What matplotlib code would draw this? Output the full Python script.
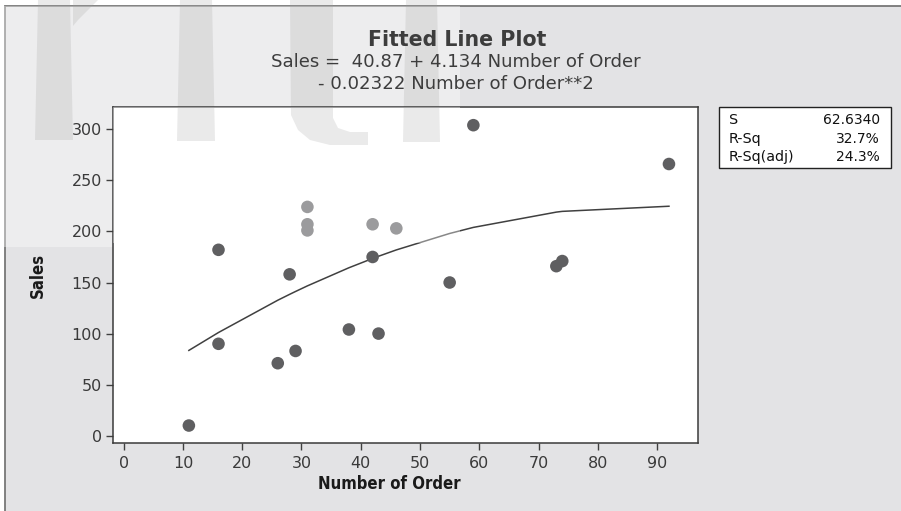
import matplotlib
matplotlib.use("Agg")
import matplotlib.pyplot as plt
from matplotlib.patches import Rectangle, Polygon
from matplotlib import font_manager
import numpy as np

# ---- data ----
number_of_order = [11, 16, 16, 26, 28, 29, 31, 31, 31, 38, 42, 42, 43, 46, 55, 59, 73, 74, 92]
sales = [10, 182, 90, 71, 158, 83, 224, 207, 201, 104, 207, 175, 100, 203, 150, 304, 166, 171, 266]
fit_coef = [40.87, 4.134, -0.02322]  # from the regression equation in the title
x_ticks = [0, 10, 20, 30, 40, 50, 60, 70, 80, 90]
y_ticks = [0, 50, 100, 150, 200, 250, 300]
stats_labels = ["S", "R-Sq", "R-Sq(adj)"]
stats_values = ["62.6340", "32.7%", "24.3%"]

W, H = 901, 511
fig = plt.figure(figsize=(W / 100, H / 100), dpi=100, facecolor="white")

def fx(x):
    return x / W

def fy(y):
    return 1 - y / H

# condensed bold font for axis labels if available
cond_path = None
for f in font_manager.fontManager.ttflist:
    if f.name == "DejaVu Sans" and "Condensed" in f.fname and "Bold" in f.fname and "Oblique" not in f.fname:
        cond_path = f.fname
        break
if cond_path:
    lab_font = font_manager.FontProperties(fname=cond_path, size=12)
else:
    lab_font = font_manager.FontProperties(family="DejaVu Sans", weight="bold", size=10.8)

# outer gray panel
fig.add_artist(Rectangle((fx(5), -0.02), 1.0, fy(6) + 0.02, transform=fig.transFigure,
                         facecolor="#e3e3e5", edgecolor="#777777", lw=1.3, zorder=-10))

ax = fig.add_axes([fx(113), fy(443), fx(698) - fx(113), fy(107) - fy(443)])
ax.set_facecolor("white")
ax.set_xlim(-1.8, 96.9)
ax.set_ylim(-7.1, 321.8)

ax.scatter(number_of_order, sales, s=82, color="#5f5f61", edgecolors="none", zorder=3)

xs = np.array(sorted(set(number_of_order)), dtype=float)
ys = fit_coef[0] + fit_coef[1] * xs + fit_coef[2] * xs ** 2
ax.plot(xs, ys, color="#404040", lw=1.1, zorder=2)

ax.set_xticks(x_ticks)
ax.set_yticks(y_ticks)
ax.tick_params(axis="both", direction="out", length=5, width=1, color="#404040",
               labelcolor="#3a3a3a", labelsize=11.5, pad=3)
ax.tick_params(axis="x", pad=4)
for sp in ax.spines.values():
    sp.set_color("#3a3a3a")
    sp.set_linewidth(1.1)

ax.set_xlabel("Number of Order", fontproperties=lab_font, color="#1a1a1a")
ax.xaxis.set_label_coords((389 - 113) / 585, -(475 - 443) / 336, transform=ax.transAxes)
ax.set_ylabel("Sales", fontproperties=lab_font, color="#1a1a1a")
ax.yaxis.set_label_coords(-(113 - 47) / 585, (443 - 275) / 336, transform=ax.transAxes)

# titles
fig.text(fx(457), fy(40), "Fitted Line Plot", ha="center", va="center",
         fontsize=14.8, fontweight="bold", color="#3d3d3d", zorder=60)
fig.text(fx(456), fy(62), "Sales =  40.87 + 4.134 Number of Order", ha="center", va="center",
         fontsize=13.1, color="#3d3d3d", zorder=60)
fig.text(fx(456), fy(84), "- 0.02322 Number of Order**2", ha="center", va="center",
         fontsize=13.1, color="#3d3d3d", zorder=60)

# stats box
fig.add_artist(Rectangle((fx(719), fy(168)), fx(891) - fx(719), fy(107) - fy(168),
                         transform=fig.transFigure, facecolor="white",
                         edgecolor="#222222", lw=1.0, zorder=1))
for i, (lab, val) in enumerate(zip(stats_labels, stats_values)):
    yy = fy(120 + 18.5 * i)
    fig.text(fx(729), yy, lab, ha="left", va="center", fontsize=10.3, color="#111111", zorder=2)
    fig.text(fx(880), yy, val, ha="right", va="center", fontsize=10, color="#111111", zorder=2)

# ---- watermark (semi-transparent light region + letter shapes) ----
def add_shape(pts_px, face, alpha, z_fig, z_ax):
    pts = [(fx(a), fy(b)) for a, b in pts_px]
    fig.add_artist(Polygon(pts, closed=True, transform=fig.transFigure, facecolor=face,
                           alpha=alpha, edgecolor="none", zorder=z_fig))
    p = Polygon(pts, closed=True, transform=fig.transFigure, facecolor=face,
                alpha=alpha, edgecolor="none", zorder=z_ax)
    ax.add_patch(p)
    p.set_clip_path(ax.patch)

region_bg = [(0, 6), (460, 6), (460, 247), (0, 247)]
pts = [(fx(a), fy(b)) for a, b in region_bg]
fig.add_artist(Polygon(pts, closed=True, transform=fig.transFigure, facecolor="white",
                       alpha=0.38, edgecolor="none", zorder=-5))
region_ax = [(0, 6), (460, 6), (460, 243), (0, 243)]
p = Polygon([(fx(a), fy(b)) for a, b in region_ax], closed=True, transform=fig.transFigure,
            facecolor="white", alpha=0.38, edgecolor="none", zorder=4)
ax.add_patch(p)
p.set_clip_path(ax.patch)

stem_col, stem_a = "#a0a0a0", 0.22

def stem(x0, x1, y_bot, taper=3):
    add_shape([(x0 + taper, 0), (x1 - taper, 0), (x1, y_bot), (x0, y_bot)],
              stem_col, stem_a, -4, 5)

stem(35, 73, 140)
stem(177, 215, 141)
stem(403, 440, 142)
hook = [(290, 0), (333, 0), (333, 118), (338, 128), (350, 132), (368, 132), (368, 145),
        (330, 145), (310, 140), (298, 130), (291, 115)]
add_shape(hook, stem_col, stem_a, -4, 5)
arch = [(73, 0), (98, 0), (88, 10), (78, 20), (73, 26)]
add_shape(arch, stem_col, stem_a, -4, 5)

fig.savefig("out.png", dpi=100)
